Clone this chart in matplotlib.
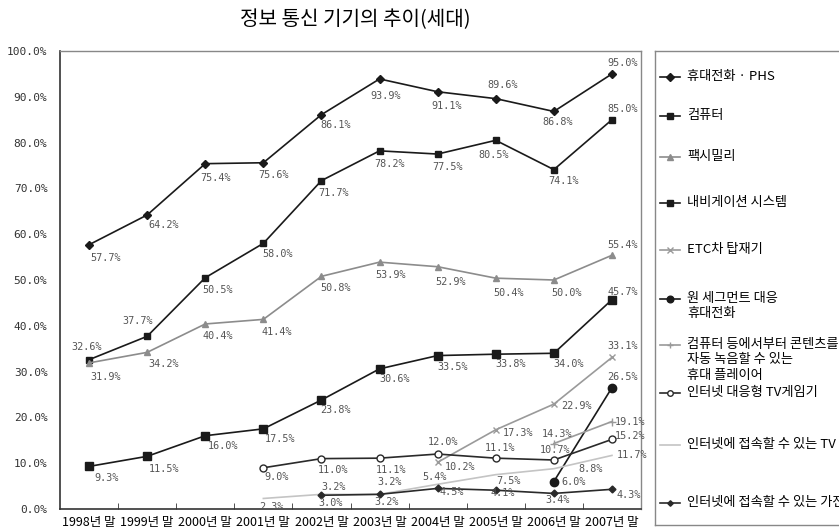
import matplotlib
matplotlib.use('Agg')
import matplotlib.pyplot as plt
import numpy as np

plt.rcParams['font.family'] = ['Noto Sans CJK KR', 'DejaVu Sans']

nan = np.nan
years = ['1998년 말', '1999년 말', '2000년 말', '2001년 말', '2002년 말',
         '2003년 말', '2004년 말', '2005년 말', '2006년 말', '2007년 말']

mobile = [57.7, 64.2, 75.4, 75.6, 86.1, 93.9, 91.1, 89.6, 86.8, 95.0]
computer = [32.6, 37.7, 50.5, 58.0, 71.7, 78.2, 77.5, 80.5, 74.1, 85.0]
fax = [31.9, 34.2, 40.4, 41.4, 50.8, 53.9, 52.9, 50.4, 50.0, 55.4]
navi = [9.3, 11.5, 16.0, 17.5, 23.8, 30.6, 33.5, 33.8, 34.0, 45.7]
etc_unit = [nan, nan, nan, nan, nan, nan, 10.2, 17.3, 22.9, 33.1]
oneseg = [nan, nan, nan, nan, nan, nan, nan, nan, 6.0, 26.5]
player = [nan, nan, nan, nan, nan, nan, nan, nan, 14.3, 19.1]
tv_game = [nan, nan, nan, 9.0, 11.0, 11.1, 12.0, 11.1, 10.7, 15.2]
net_tv = [nan, nan, nan, 2.3, 3.2, 3.2, 5.4, 7.5, 8.8, 11.7]
appliance = [nan, nan, nan, nan, 3.0, 3.2, 4.5, 4.1, 3.4, 4.3]

names = ['휴대전화 · PHS', '컴퓨터', '팩시밀리', '내비게이션 시스템', 'ETC차 탑재기',
         '원 세그먼트 대응\n휴대전화',
         '컴퓨터 등에서부터 콘텐츠를\n자동 녹음할 수 있는\n휴대 플레이어',
         '인터넷 대응형 TV게임기', '인터넷에 접속할 수 있는 TV',
         '인터넷에 접속할 수 있는 가전']

# style per series: color, marker, markersize, marker face
styles = [
    ('#1a1a1a', 'D', 4.5, '#1a1a1a'),
    ('#1a1a1a', 's', 5, '#1a1a1a'),
    ('#8c8c8c', '^', 5, '#8c8c8c'),
    ('#1a1a1a', 's', 5.5, '#1a1a1a'),
    ('#9a9a9a', 'x', 5, '#9a9a9a'),
    ('#1a1a1a', 'o', 6, '#1a1a1a'),
    ('#9a9a9a', '+', 6, '#9a9a9a'),
    ('#2a2a2a', 'o', 5, 'white'),
    ('#c4c4c4', '', 0, '#c4c4c4'),
    ('#2a2a2a', 'D', 3.5, '#2a2a2a'),
]

# label offsets in pixels (dx, dy downward)
offsets = [
    [(17, 13), (17, 10), (10, 14), (10, 12), (14, 10), (6, 17), (9, 14), (7, -14), (4, 11), (11, -11)],
    [(-2, -13), (-9, -15), (12, 12), (14, 11), (12, 12), (10, 13), (10, 13), (-2, 15), (10, 11), (11, -11)],
    [(17, 14), (17, 12), (13, 12), (13, 13), (14, 12), (11, 13), (13, 15), (13, 15), (13, 13), (11, -10)],
    [(18, 12), (17, 13), (18, 10), (17, 10), (14, 10), (15, 10), (15, 11), (15, 10), (15, 11), (11, -8)],
    [(22, 5), (22, 3), (23, 2), (11, -11)],
    [(20, 0), (11, -11)],
    [(3, -10), (18, 0)],
    [(13, 9), (12, 11), (12, 12), (5, -12), (4, -10), (1, -10), (18, -3)],
    [(8, 9), (12, -7), (10, -12), (-3, -7), (13, 6), (37, 0), (20, 0)],
    [(9, 8), (7, 8), (14, 4), (7, 3), (4, 7), (17, 6)],
]

series = [mobile, computer, fax, navi, etc_unit, oneseg, player, tv_game, net_tv, appliance]

W, H = 839, 532
fig = plt.figure(figsize=(W / 100, H / 100), dpi=100)
ax = fig.add_axes([60 / W, (H - 509) / H, 581 / W, 458 / H])

x = np.arange(len(years))
for vals, (col, mk, ms, mfc), offs in zip(series, styles, offsets):
    vals = np.array(vals, dtype=float)
    ax.plot(x, vals, color=col, lw=1.2, marker=mk if mk else None, ms=ms,
            mfc=mfc, mec=col, mew=1.0, zorder=3)
    idx = np.where(~np.isnan(vals))[0]
    for i, (dx, dy) in zip(idx, offs):
        ax.annotate(f'{vals[i]:.1f}%', (x[i], vals[i]), xytext=(dx, -dy),
                    textcoords='offset pixels', ha='center', va='center',
                    fontsize=7.3, family='DejaVu Sans Mono', color='#555555')

ax.set_xlim(-0.5, len(years) - 0.5)
ax.set_ylim(0, 100)
ax.set_yticks(np.arange(0, 101, 10))
ax.set_yticklabels([f'{v:.1f}%' for v in np.arange(0, 101, 10)],
                   family='DejaVu Sans Mono', fontsize=8, color='#333333')
ax.tick_params(axis='y', length=0, pad=9)
ax.set_xticks(x)
ax.set_xticklabels(years, fontsize=9)
ax.tick_params(axis='x', length=0, pad=5)
ax.set_xticks(x[:-1] + 0.5, minor=True)
ax.tick_params(axis='x', which='minor', direction='in', length=4, color='#333333')
for s in ['left', 'bottom']:
    ax.spines[s].set_color('#333333')
    ax.spines[s].set_linewidth(1.2)
for s in ['top', 'right']:
    ax.spines[s].set_color('#888888')
    ax.spines[s].set_linewidth(1.0)

fig.text(355 / W, 1 - 20 / H, '정보 통신 기기의 추이(세대)', ha='center', va='center',
         fontsize=14.5)

# legend panel
lax = fig.add_axes([655 / W, (H - 525) / H, 200 / W, 474 / H])
lax.set_xlim(0, 200)
lax.set_ylim(474, 0)
lax.set_xticks([])
lax.set_yticks([])
for s in lax.spines.values():
    s.set_color('#888888')
    s.set_linewidth(1.0)
key_y = [26, 65, 106, 152, 199, 248, 294, 342, 394, 452]
for ky, name, (col, mk, ms, mfc) in zip(key_y, names, styles):
    lax.plot([5, 15, 25], [ky, ky, ky], color=col, lw=1.2,
             marker=mk if mk else None, ms=ms * 0.8, mfc=mfc, mec=col,
             markevery=[1], clip_on=False)
    lax.text(32, ky - 7, name, ha='left', va='top', fontsize=9.5,
             linespacing=1.25)

fig.savefig('out.png', dpi=100)
